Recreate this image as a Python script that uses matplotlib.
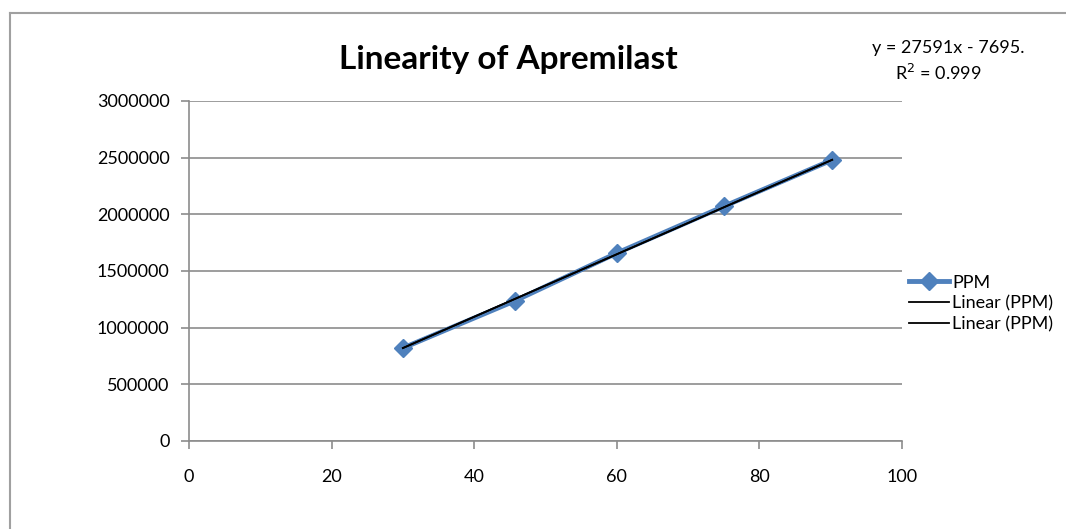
import matplotlib.pyplot as plt
from matplotlib.lines import Line2D

plt.rcParams['font.family'] = ['Lato', 'DejaVu Sans']

# concentration vs peak area
conc = [30, 45.7, 60, 75, 90.2]
area = [820000, 1236000, 1658000, 2070000, 2480000]

# trendline reported by the fit
slope = 27591
intercept = -7695
r2 = 0.999

y_ticks = [0, 500000, 1000000, 1500000, 2000000, 2500000, 3000000]
x_ticks = [0, 20, 40, 60, 80, 100]

grey = '#8c8c8c'
blue = '#4f81bd'

fig = plt.figure(figsize=(10.66, 5.29), dpi=100)
ax = fig.add_axes([0.1773, 0.1664, 0.6689, 0.6427])

ax.plot(conc, area, color=blue, lw=3.5, marker='D', markersize=9,
        label='PPM', zorder=3)

fit_x = [conc[0], conc[-1]]
fit_y = [slope * x + intercept for x in fit_x]
ax.plot(fit_x, fit_y, color='black', lw=1.3, label='Linear (PPM)', zorder=4)
ax.plot(fit_x, fit_y, color='black', lw=1.3, label='Linear (PPM)', zorder=4)

ax.set_xlim(0, 100)
ax.set_ylim(0, 3000000)
ax.set_xticks(x_ticks)
ax.set_yticks(y_ticks)
ax.set_yticklabels([str(v) for v in y_ticks])
ax.set_xticklabels([str(v) for v in x_ticks])
ax.tick_params(axis='both', colors=grey, labelcolor='black', labelsize=13,
               length=6, width=1.2, direction='out')
ax.tick_params(axis='x', pad=14)
ax.tick_params(axis='y', pad=8)

ax.grid(axis='y', color=grey, lw=1.2)
ax.set_axisbelow(True)
for side in ['top', 'right']:
    ax.spines[side].set_visible(False)
for side in ['left', 'bottom']:
    ax.spines[side].set_color(grey)
    ax.spines[side].set_linewidth(1.2)

fig.text(0.477, 0.888, 'Linearity of Apremilast', ha='center', va='center',
         fontsize=24, fontweight='bold')

fig.text(0.89, 0.909, f'y = {slope}x - {abs(intercept)}.', ha='center',
         va='center', fontsize=13)
fig.text(0.88, 0.862, f'R$^2$ = {r2}', ha='center', va='center', fontsize=13)

ax.legend(loc='upper left', bbox_to_anchor=(0.9995, 0.51), frameon=False,
          fontsize=13, handlelength=2.2, handletextpad=0.2,
          labelspacing=0.25, borderaxespad=0)

# chart area border
fig.add_artist(Line2D([0.0094, 0.0094], [0, 1 - 13 / 529], color='#a0a0a0',
                      lw=1.5, transform=fig.transFigure))
fig.add_artist(Line2D([0.0094, 1], [1 - 13 / 529, 1 - 13 / 529],
                      color='#a0a0a0', lw=1.5, transform=fig.transFigure))

fig.savefig('out.png', dpi=100)
